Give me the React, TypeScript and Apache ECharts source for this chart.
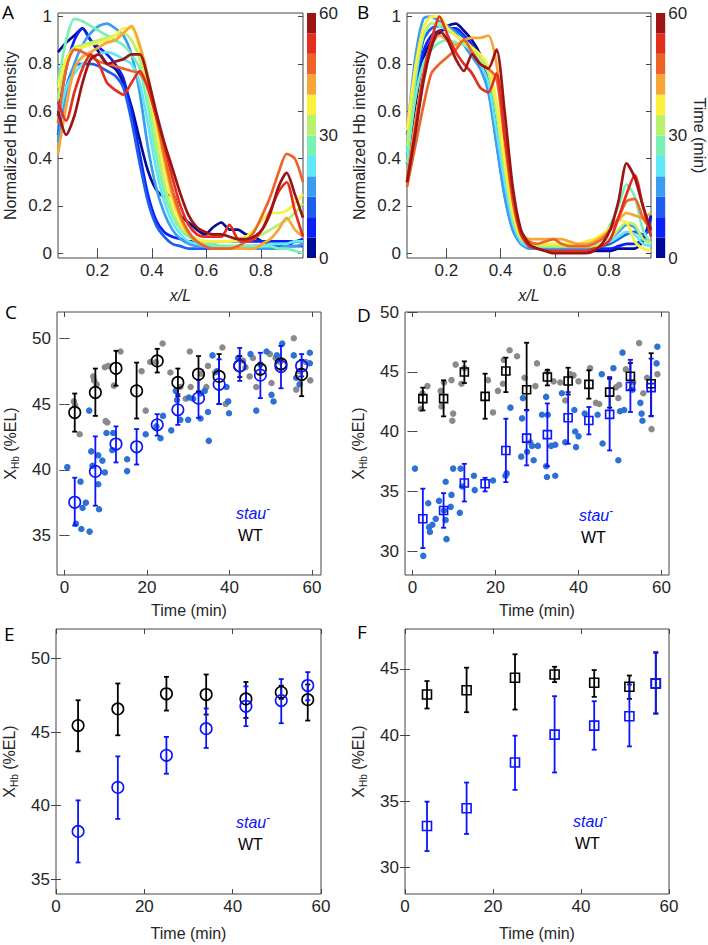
import React, { useEffect, useRef } from 'react';
import * as echarts from 'echarts';

const FONT = '"Liberation Sans", Arial, Helvetica, sans-serif';
const LETTER_FONT = '"Open Sans", "Liberation Sans", sans-serif';
const INK = '#262626';
const BOX = '#444444';
const STAU_BLUE = '#0a14ff';
const STAU_DOT = '#2d70d6';
const WT_DOT = '#8a8a8a';
const TICK_FONT = 17;

// 12 time bins of 5 min each (0-60 min), jet-like colours
const TIME_COLORS = ['#000a96', '#0a22f5', '#1f5eef', '#3c9cf2', '#5fe7f6', '#79f0b6', '#b9f06c', '#fbf03c', '#f5a636', '#ee6428', '#e42f1e', '#9c1414'];
const BAND_MINUTES = [5, 5, 5, 5, 5, 5, 5, 5, 5, 5, 5, 5];
const COLORBAR_TICKS = [0, 30, 60];

// profile x positions (x/L)
const PROFILE_X = [0.055, 0.085, 0.115, 0.145, 0.175, 0.205, 0.235, 0.265, 0.295, 0.325, 0.355, 0.385, 0.415, 0.445, 0.475, 0.505, 0.535, 0.565, 0.595, 0.625, 0.655, 0.685, 0.715, 0.745, 0.775, 0.805, 0.835, 0.865, 0.895, 0.925, 0.955];
const PROFILE_X_TICKS = [0.2, 0.4, 0.6, 0.8];
const PROFILE_Y_TICKS = [0, 0.2, 0.4, 0.6, 0.8, 1];

const A_PROFILES = [
  [0.85, 0.89, 0.92, 0.95, 0.9, 0.85, 0.8, 0.78, 0.72, 0.62, 0.48, 0.35, 0.27, 0.24, 0.25, 0.16, 0.13, 0.1, 0.08, 0.11, 0.13, 0.1, 0.1, 0.08, 0.07, 0.05, 0.04, 0.04, 0.03, 0.05, 0.05],
  [0.58, 0.78, 0.9, 0.95, 0.9, 0.87, 0.84, 0.8, 0.74, 0.6, 0.42, 0.25, 0.14, 0.09, 0.07, 0.06, 0.05, 0.05, 0.05, 0.05, 0.05, 0.05, 0.05, 0.05, 0.05, 0.05, 0.05, 0.05, 0.05, 0.05, 0.06],
  [0.5, 0.7, 0.79, 0.8, 0.8, 0.79, 0.77, 0.75, 0.7, 0.56, 0.38, 0.22, 0.12, 0.07, 0.04, 0.03, 0.02, 0.02, 0.02, 0.02, 0.02, 0.02, 0.02, 0.03, 0.03, 0.03, 0.03, 0.03, 0.03, 0.03, 0.03],
  [0.47, 0.68, 0.8, 0.88, 0.93, 0.96, 0.97, 0.95, 0.92, 0.84, 0.68, 0.45, 0.28, 0.17, 0.1, 0.06, 0.04, 0.03, 0.03, 0.03, 0.02, 0.02, 0.02, 0.02, 0.02, 0.02, 0.02, 0.02, 0.03, 0.03, 0.04],
  [0.55, 0.7, 0.76, 0.8, 0.82, 0.84, 0.85, 0.84, 0.82, 0.8, 0.72, 0.55, 0.36, 0.22, 0.13, 0.08, 0.05, 0.04, 0.03, 0.03, 0.03, 0.03, 0.03, 0.03, 0.03, 0.03, 0.04, 0.04, 0.04, 0.05, 0.05],
  [0.72, 0.9, 0.99, 0.98, 0.96, 0.94, 0.92, 0.9, 0.88, 0.84, 0.78, 0.62, 0.42, 0.26, 0.16, 0.1, 0.07, 0.05, 0.04, 0.04, 0.03, 0.03, 0.03, 0.03, 0.03, 0.03, 0.03, 0.02, 0.02, 0.01, 0.0],
  [0.65, 0.82, 0.87, 0.88, 0.89, 0.9, 0.91, 0.92, 0.93, 0.9, 0.82, 0.68, 0.48, 0.3, 0.18, 0.11, 0.08, 0.06, 0.05, 0.05, 0.05, 0.05, 0.05, 0.06, 0.07, 0.08, 0.1, 0.12, 0.14, 0.17, 0.21],
  [0.7, 0.82, 0.86, 0.87, 0.88, 0.89, 0.9, 0.92, 0.95, 0.95, 0.86, 0.72, 0.54, 0.36, 0.22, 0.13, 0.08, 0.06, 0.05, 0.05, 0.05, 0.05, 0.06, 0.07, 0.1, 0.14, 0.17, 0.17, 0.18, 0.21, 0.25],
  [0.42, 0.62, 0.78, 0.83, 0.85, 0.87, 0.89, 0.9, 0.93, 0.96, 0.88, 0.75, 0.58, 0.4, 0.25, 0.15, 0.08, 0.05, 0.03, 0.02, 0.02, 0.02, 0.02, 0.02, 0.02, 0.04, 0.06, 0.1, 0.15, 0.1, 0.07],
  [0.55, 0.78, 0.86, 0.85, 0.83, 0.81, 0.8, 0.79, 0.78, 0.77, 0.76, 0.7, 0.58, 0.42, 0.27, 0.16, 0.09, 0.05, 0.03, 0.02, 0.02, 0.02, 0.03, 0.05, 0.09, 0.16, 0.24, 0.34, 0.42, 0.4, 0.3],
  [0.64, 0.56, 0.68, 0.78, 0.84, 0.8, 0.72, 0.69, 0.67, 0.72, 0.77, 0.7, 0.58, 0.46, 0.32, 0.2, 0.12, 0.08, 0.07, 0.07, 0.07, 0.12, 0.06, 0.05, 0.06, 0.1, 0.18, 0.26, 0.3, 0.18, 0.07],
  [0.6, 0.5, 0.58, 0.72, 0.82, 0.84, 0.8, 0.81, 0.82, 0.84, 0.84, 0.74, 0.6, 0.47, 0.36, 0.25, 0.16, 0.11, 0.09, 0.08, 0.08, 0.07, 0.06, 0.06, 0.07, 0.1, 0.17, 0.28, 0.34, 0.25, 0.15],
];

const B_PROFILES = [
  [0.38, 0.62, 0.82, 0.9, 0.93, 0.96, 0.97, 0.94, 0.9, 0.84, 0.74, 0.52, 0.3, 0.13, 0.05, 0.03, 0.02, 0.02, 0.02, 0.02, 0.02, 0.01, 0.01, 0.01, 0.01, 0.01, 0.02, 0.02, 0.02, 0.05, 0.16],
  [0.45, 0.68, 0.85, 0.92, 0.94, 0.95, 0.95, 0.92, 0.88, 0.82, 0.72, 0.5, 0.28, 0.12, 0.05, 0.03, 0.02, 0.02, 0.02, 0.02, 0.02, 0.02, 0.02, 0.02, 0.02, 0.02, 0.03, 0.04, 0.04, 0.06, 0.15],
  [0.42, 0.7, 0.9, 0.95, 0.96, 0.95, 0.94, 0.91, 0.86, 0.8, 0.7, 0.47, 0.25, 0.1, 0.04, 0.03, 0.02, 0.02, 0.02, 0.02, 0.02, 0.02, 0.02, 0.02, 0.03, 0.04, 0.06, 0.08, 0.09, 0.08, 0.1],
  [0.5, 0.82, 0.99, 1.0, 0.98, 0.96, 0.93, 0.88, 0.83, 0.78, 0.68, 0.46, 0.24, 0.1, 0.04, 0.02, 0.02, 0.02, 0.02, 0.02, 0.02, 0.02, 0.02, 0.02, 0.04, 0.06, 0.09, 0.12, 0.11, 0.06, 0.05],
  [0.42, 0.72, 0.92, 0.97, 0.96, 0.94, 0.92, 0.89, 0.85, 0.8, 0.72, 0.52, 0.3, 0.13, 0.05, 0.03, 0.03, 0.03, 0.03, 0.03, 0.03, 0.03, 0.03, 0.03, 0.04, 0.05, 0.07, 0.09, 0.08, 0.04, 0.03],
  [0.38, 0.65, 0.8, 0.86, 0.89, 0.9, 0.89, 0.88, 0.86, 0.83, 0.78, 0.6, 0.36, 0.16, 0.06, 0.04, 0.03, 0.03, 0.03, 0.03, 0.03, 0.03, 0.03, 0.04, 0.07, 0.12, 0.2, 0.29, 0.24, 0.1, 0.04],
  [0.45, 0.75, 0.92, 0.97, 0.97, 0.95, 0.92, 0.89, 0.86, 0.82, 0.76, 0.6, 0.36, 0.16, 0.06, 0.04, 0.03, 0.03, 0.03, 0.03, 0.03, 0.03, 0.03, 0.03, 0.04, 0.06, 0.1, 0.13, 0.12, 0.06, 0.04],
  [0.52, 0.78, 0.95, 1.0, 1.0, 0.95, 0.92, 0.9, 0.87, 0.84, 0.79, 0.64, 0.4, 0.18, 0.07, 0.05, 0.04, 0.04, 0.04, 0.04, 0.04, 0.04, 0.05, 0.06, 0.08, 0.11, 0.14, 0.13, 0.05, 0.02, 0.01],
  [0.3, 0.55, 0.75, 0.88, 0.92, 0.9, 0.88, 0.9, 0.91, 0.91, 0.92, 0.8, 0.5, 0.24, 0.09, 0.06, 0.06, 0.06, 0.06, 0.06, 0.05, 0.04, 0.04, 0.05, 0.07, 0.1, 0.14, 0.17, 0.16, 0.15, 0.17],
  [0.28, 0.45, 0.62, 0.76, 0.8, 0.83, 0.86, 0.9, 0.85, 0.8, 0.78, 0.74, 0.48, 0.22, 0.08, 0.05, 0.04, 0.05, 0.06, 0.04, 0.03, 0.03, 0.03, 0.04, 0.06, 0.1, 0.15, 0.22, 0.23, 0.15, 0.1],
  [0.3, 0.52, 0.75, 0.9, 1.0, 0.92, 0.85, 0.8, 0.76, 0.7, 0.68, 0.76, 0.5, 0.25, 0.08, 0.03, 0.02, 0.01, 0.01, 0.01, 0.01, 0.01, 0.01, 0.02, 0.03, 0.06, 0.15, 0.25, 0.33, 0.2, 0.07],
  [0.3, 0.5, 0.72, 0.87, 0.94, 0.9, 0.82, 0.77, 0.84, 0.8, 0.78, 0.86, 0.6, 0.28, 0.1, 0.04, 0.02, 0.01, 0.0, 0.0, 0.0, 0.0, 0.0, 0.01, 0.04, 0.1, 0.22, 0.38, 0.32, 0.2, 0.1],
];

// Panels C / D: 5-min bins
const TIME_TICKS = [0, 20, 40, 60];
const CD_TIMES = [2.5, 7.5, 12.5, 17.5, 22.5, 27.5, 32.5, 37.5, 42.5, 47.5, 52.5, 57.5];

const C_Y_TICKS = [35, 40, 45, 50];
const C_WT_MEAN = [44.36, 45.88, 47.72, 46.0, 48.28, 46.64, 47.27, 47.1, 47.9, 47.65, 48.05, 47.25];
const C_WT_LO = [42.9, 44.1, 46.4, 43.9, 47.4, 45.6, 45.95, 45.0, 47.05, 47.25, 47.65, 45.6];
const C_WT_HI = [45.8, 47.7, 49.05, 48.15, 49.2, 47.7, 48.65, 48.8, 48.65, 48.1, 48.35, 48.35];
const C_STAU_MEAN = [37.53, 39.88, 41.96, 41.75, 43.42, 44.56, 45.45, 46.5, 47.9, 47.2, 47.85, 47.9];
const C_STAU_LO = [35.76, 37.27, 40.56, 40.4, 42.6, 43.42, 43.95, 45.0, 46.76, 45.45, 46.2, 47.1];
const C_STAU_HI = [39.4, 42.54, 43.3, 43.1, 44.23, 45.75, 46.85, 48.4, 49.27, 48.9, 49.42, 48.8];
const C_WT_POINTS = [
  [2.3, 45.2], [2.6, 44.9], [3.7, 42.7], [7.0, 47.1], [7.2, 46.8], [7.8, 46.5], [9.8, 47.8], [10.6, 47.9], [10.0, 43.7], [10.4, 43.6],
  [12.0, 46.4], [13.6, 49.0], [18.7, 47.5], [19.7, 44.5], [20.8, 48.2], [22.2, 48.2], [23.8, 49.6], [25.7, 47.4], [28.1, 46.3], [29.4, 45.4],
  [30.4, 49.0], [30.6, 46.3], [33.2, 47.3], [34.8, 47.9], [34.4, 46.3], [36.5, 47.4], [38.3, 49.3], [39.1, 45.0], [43.3, 48.3], [43.9, 47.8],
  [45.7, 48.5], [44.9, 47.1], [46.5, 46.3], [49.8, 48.8], [50.2, 46.6], [51.2, 48.5], [52.3, 48.2], [55.6, 50.0], [56.2, 46.1], [57.0, 47.5],
  [58.5, 48.2], [59.6, 46.8],
];
const C_STAU_POINTS = [
  [0.7, 40.2], [2.8, 35.9], [3.9, 39.1], [4.1, 35.5], [4.4, 37.1], [5.2, 37.5], [6.0, 44.5], [6.1, 35.3], [6.5, 41.4], [6.8, 40.3],
  [8.2, 41.1], [8.2, 38.9], [8.4, 37.0], [9.2, 40.7], [9.8, 39.8], [10.2, 42.8], [11.6, 41.5], [11.8, 42.8], [15.2, 40.8], [15.2, 39.9],
  [19.7, 42.7], [22.3, 43.3], [23.3, 42.4], [23.9, 44.1], [25.9, 43.0], [27.0, 46.0], [27.3, 45.3], [28.1, 43.8], [30.0, 43.8], [30.2, 45.5],
  [31.2, 45.4], [33.0, 45.8], [33.0, 43.9], [34.0, 46.0], [34.8, 44.4], [35.0, 42.2], [35.9, 48.7], [37.0, 47.5], [39.3, 46.3], [39.7, 45.2],
  [39.9, 44.3], [42.1, 48.5], [45.1, 48.8], [46.5, 44.5], [47.5, 48.0], [49.0, 49.0], [50.2, 45.7], [50.7, 45.2], [51.5, 48.7], [52.8, 49.6],
  [55.6, 48.7], [56.2, 47.0], [57.0, 46.5], [59.5, 48.9], [59.5, 48.1],
];

const D_Y_TICKS = [30, 35, 40, 45, 50];
const D_WT_MEAN = [42.75, 42.75, 44.98, 42.94, 45.06, 43.5, 44.56, 44.23, 43.95, 43.3, 44.62, 44.0];
const D_WT_LO = [41.77, 41.27, 44.06, 41.07, 43.3, 41.8, 43.86, 43.1, 42.75, 42.0, 43.5, 41.3];
const D_WT_HI = [43.67, 44.28, 45.87, 44.84, 46.18, 47.43, 45.17, 45.34, 45.12, 44.42, 45.73, 46.55];
const D_STAU_MEAN = [32.7, 33.4, 35.7, 35.63, 38.42, 39.45, 39.74, 41.16, 40.93, 41.44, 43.78, 43.67];
const D_STAU_LO = [30.25, 31.95, 34.15, 34.99, 35.77, 37.17, 37.1, 38.98, 39.76, 38.42, 41.63, 41.27];
const D_STAU_HI = [35.22, 34.85, 37.3, 36.13, 41.07, 41.77, 42.35, 43.3, 42.05, 44.56, 46.0, 46.1];
const D_WT_POINTS = [
  [2.0, 41.9], [2.4, 43.2], [3.6, 43.8], [6.8, 43.4], [7.0, 42.1], [7.6, 44.1], [9.4, 44.3], [9.6, 40.9], [9.8, 41.5], [10.4, 45.6],
  [11.8, 44.0], [12.5, 45.3], [18.2, 44.3], [19.4, 41.6], [20.6, 43.4], [21.8, 44.0], [22.0, 46.0], [23.4, 46.8], [25.2, 46.3], [27.0, 44.5],
  [28.4, 39.1], [29.6, 43.8], [30.0, 45.7], [32.5, 45.0], [34.0, 44.2], [35.6, 44.1], [36.8, 42.6], [38.0, 44.8], [38.8, 44.7], [40.0, 44.2],
  [42.8, 45.3], [44.2, 42.4], [45.0, 42.3], [49.0, 43.7], [49.6, 42.8], [49.8, 43.9], [51.4, 45.2], [53.2, 44.1], [54.6, 47.4], [55.6, 43.2],
  [56.5, 44.5], [57.6, 40.2], [59.0, 44.8],
];
const D_STAU_POINTS = [
  [0.6, 36.9], [2.6, 29.6], [3.8, 34.0], [4.0, 32.0], [4.2, 31.6], [4.8, 32.2], [5.6, 32.7], [6.4, 34.2], [7.6, 33.4], [8.0, 35.8],
  [8.0, 32.6], [8.2, 31.0], [9.2, 33.7], [9.4, 34.7], [9.8, 36.9], [11.4, 33.2], [11.6, 36.9], [12.0, 35.4], [14.8, 36.3], [15.0, 35.1],
  [19.4, 35.9], [22.4, 36.3], [22.7, 36.5], [23.6, 42.0], [26.2, 37.9], [26.4, 41.1], [26.6, 42.8], [27.6, 38.3], [28.8, 38.8], [29.2, 37.6],
  [30.2, 38.8], [31.2, 41.4], [32.2, 42.9], [32.6, 41.4], [32.2, 37.1], [32.4, 36.2], [33.4, 38.8], [34.4, 38.9], [34.4, 36.3], [36.0, 43.2],
  [36.8, 39.1], [39.0, 41.8], [39.2, 40.0], [39.4, 38.7], [40.0, 39.6], [41.5, 41.5], [44.6, 41.4], [45.6, 44.8], [45.8, 39.0], [48.4, 45.3],
  [49.6, 37.6], [50.0, 41.7], [50.6, 46.6], [51.0, 41.8], [53.0, 43.5], [54.9, 42.4], [55.2, 41.5], [55.4, 40.9], [58.8, 45.7], [59.0, 47.1],
];

// Panels E / F
const EF_TIMES = [5, 14, 25, 34, 43, 51, 57];
const E_Y_TICKS = [35, 40, 45, 50];
const E_WT_MEAN = [45.44, 46.57, 47.6, 47.55, 47.25, 47.7, 47.2];
const E_WT_LO = [43.69, 44.78, 46.46, 46.19, 45.96, 47.25, 45.78];
const E_WT_HI = [47.16, 48.3, 48.75, 48.91, 48.4, 48.15, 48.23];
const E_STAU_MEAN = [38.25, 41.24, 43.42, 45.23, 46.75, 47.14, 48.16];
const E_STAU_LO = [36.14, 39.1, 42.17, 43.92, 45.4, 45.6, 47.16];
const E_STAU_HI = [40.36, 43.35, 44.67, 46.6, 48.1, 48.6, 49.07];

const F_Y_TICKS = [30, 35, 40, 45];
const F_WT_MEAN = [43.06, 43.38, 44.32, 44.57, 43.94, 43.64, 43.9];
const F_WT_LO = [42.0, 41.72, 41.92, 43.99, 42.88, 42.73, 41.62];
const F_WT_HI = [44.07, 45.08, 46.09, 45.15, 44.9, 44.49, 46.25];
const F_STAU_MEAN = [33.13, 34.47, 37.93, 40.03, 40.71, 41.41, 43.9];
const F_STAU_LO = [31.24, 32.53, 35.86, 37.17, 38.89, 39.14, 41.62];
const F_STAU_HI = [34.97, 36.41, 39.95, 42.93, 42.55, 43.81, 46.2];

// ---------- layout ----------
const GRIDS = [
  { left: 58, top: 13, width: 245, height: 245 },
  { left: 407, top: 13, width: 244, height: 245 },
  { left: 57, top: 312, width: 264, height: 263 },
  { left: 405, top: 312, width: 264, height: 263 },
  { left: 56, top: 629, width: 265, height: 265 },
  { left: 405, top: 629, width: 264, height: 265 },
  { left: 307, top: 13, width: 9, height: 245 },
  { left: 656, top: 13, width: 11, height: 245 },
];

const fmt = (v: number) => String(v);

function tick(values: number[]) {
  return { show: true, inside: true, length: 5, customValues: values, lineStyle: { color: BOX, width: 1 } };
}
function label(values: number[], margin = 6) {
  return { show: true, customValues: values, fontSize: TICK_FONT, color: INK, fontFamily: FONT, margin, formatter: fmt };
}

const X_HB_NAME = '{x|X}{s|Hb}{t| (%EL)}';
const X_HB_RICH = {
  x: { fontSize: 16, lineHeight: 20, fontFamily: FONT, color: INK },
  s: { fontSize: 10, lineHeight: 10, verticalAlign: 'bottom', fontFamily: FONT, color: INK },
  t: { fontSize: 16, lineHeight: 20, fontFamily: FONT, color: INK },
};

type PanelAxisCfg = {
  grid: number; xMin: number; xMax: number; xTicks: number[]; yMin: number; yMax: number; yTicks: number[];
  xName: string; xItalic: boolean; xGap: number; yName: string; yRich: boolean; yGap: number;
};

function buildAxes(cfgs: PanelAxisCfg[]) {
  const xAxes: any[] = [];
  const yAxes: any[] = [];
  cfgs.forEach((c) => {
    xAxes.push({
      type: 'value', gridIndex: c.grid, position: 'bottom', min: c.xMin, max: c.xMax,
      axisLine: { show: false }, splitLine: { show: false }, axisTick: tick(c.xTicks), axisLabel: label(c.xTicks, 4),
      name: c.xName, nameLocation: 'middle', nameGap: c.xGap,
      nameTextStyle: { fontSize: 16, color: INK, fontFamily: FONT, fontStyle: c.xItalic ? 'italic' : 'normal' },
    });
    xAxes.push({
      type: 'value', gridIndex: c.grid, position: 'top', min: c.xMin, max: c.xMax,
      axisLine: { show: false }, splitLine: { show: false }, axisTick: tick(c.xTicks), axisLabel: { show: false },
    });
    yAxes.push({
      type: 'value', gridIndex: c.grid, position: 'left', min: c.yMin, max: c.yMax,
      axisLine: { show: false }, splitLine: { show: false }, axisTick: tick(c.yTicks), axisLabel: label(c.yTicks, 6),
      name: c.yName, nameLocation: 'middle', nameGap: c.yGap,
      nameTextStyle: c.yRich
        ? { fontSize: 16, color: INK, fontFamily: FONT, rich: X_HB_RICH }
        : { fontSize: 16, color: INK, fontFamily: FONT },
    });
    yAxes.push({
      type: 'value', gridIndex: c.grid, position: 'right', min: c.yMin, max: c.yMax,
      axisLine: { show: false }, splitLine: { show: false }, axisTick: tick(c.yTicks), axisLabel: { show: false },
    });
  });
  return { xAxes, yAxes };
}

function errorBars(axis: number, times: number[], lo: number[], hi: number[], color: string) {
  return {
    type: 'custom', xAxisIndex: axis, yAxisIndex: axis, silent: true, z: 4,
    data: times.map((t, i) => [t, lo[i], hi[i]]),
    encode: { x: 0, y: [1, 2] },
    renderItem: (_p: any, api: any) => {
      const a = api.coord([api.value(0), api.value(1)]);
      const b = api.coord([api.value(0), api.value(2)]);
      const w = 2.5;
      const style = { stroke: color, lineWidth: 1.8 };
      return {
        type: 'group',
        children: [
          { type: 'line', shape: { x1: a[0], y1: a[1], x2: b[0], y2: b[1] }, style },
          { type: 'line', shape: { x1: a[0] - w, y1: a[1], x2: a[0] + w, y2: a[1] }, style },
          { type: 'line', shape: { x1: b[0] - w, y1: b[1], x2: b[0] + w, y2: b[1] }, style },
        ],
      };
    },
  };
}

function markers(axis: number, times: number[], mean: number[], symbol: string, size: number, color: string) {
  return {
    type: 'scatter', xAxisIndex: axis, yAxisIndex: axis, silent: true, z: 5, symbol, symbolSize: size,
    data: times.map((t, i) => [t, mean[i]]),
    itemStyle: { color: 'rgba(0,0,0,0)', borderColor: color, borderWidth: 1.6, opacity: 1 },
  };
}

function dots(axis: number, pts: number[][], color: string) {
  return {
    type: 'scatter', xAxisIndex: axis, yAxisIndex: axis, silent: true, z: 2, symbol: 'circle', symbolSize: 6.5,
    data: pts, itemStyle: { color, opacity: 1 },
  };
}

function profiles(axis: number, curves: number[][]) {
  return curves.map((ys, i) => ({
    type: 'line', xAxisIndex: axis, yAxisIndex: axis, silent: true, showSymbol: false, symbol: 'none', smooth: 0.25,
    data: PROFILE_X.map((x, j) => [x, ys[j]]),
    lineStyle: { color: TIME_COLORS[i], width: 2.7 }, itemStyle: { color: TIME_COLORS[i] }, z: 2,
  }));
}

function colorbar(axis: number, stack: string) {
  return TIME_COLORS.map((c, i) => ({
    type: 'bar', xAxisIndex: axis, yAxisIndex: axis, stack, barWidth: '100%', silent: true,
    data: [BAND_MINUTES[i]], itemStyle: { color: c },
  }));
}

function legend(left: number, top: number) {
  return [
    {
      type: 'text', left, top,
      style: {
        text: '{a|stau}{b|-}',
        rich: {
          a: { fill: STAU_BLUE, fontSize: 16, fontStyle: 'italic', fontFamily: FONT, lineHeight: 20 },
          b: { fill: STAU_BLUE, fontSize: 12, fontFamily: FONT, lineHeight: 10, verticalAlign: 'top' },
        },
      },
    },
    { type: 'text', left: left + 2, top: top + 24, style: { text: 'WT', fill: '#000', fontSize: 16, fontFamily: FONT } },
  ];
}

function panelLetter(text: string, left: number, top: number) {
  return { type: 'text', left, top, style: { text, fill: '#000', fontSize: 19, fontFamily: LETTER_FONT } };
}

function buildOption() {
  const cfgs: PanelAxisCfg[] = [
    { grid: 0, xMin: 0.055, xMax: 0.955, xTicks: PROFILE_X_TICKS, yMin: -0.02, yMax: 1.015, yTicks: PROFILE_Y_TICKS, xName: 'x/L', xItalic: true, xGap: 29, yName: 'Normalized Hb intensity', yRich: false, yGap: 40 },
    { grid: 1, xMin: 0.055, xMax: 0.955, xTicks: PROFILE_X_TICKS, yMin: -0.02, yMax: 1.015, yTicks: PROFILE_Y_TICKS, xName: 'x/L', xItalic: true, xGap: 29, yName: 'Normalized Hb intensity', yRich: false, yGap: 40 },
    { grid: 2, xMin: -1.8, xMax: 62.2, xTicks: TIME_TICKS, yMin: 32, yMax: 52, yTicks: C_Y_TICKS, xName: 'Time (min)', xItalic: false, xGap: 27, yName: X_HB_NAME, yRich: true, yGap: 37 },
    { grid: 3, xMin: -1.8, xMax: 61.8, xTicks: TIME_TICKS, yMin: 28, yMax: 50, yTicks: D_Y_TICKS, xName: 'Time (min)', xItalic: false, xGap: 27, yName: X_HB_NAME, yRich: true, yGap: 37 },
    { grid: 4, xMin: 0, xMax: 60, xTicks: TIME_TICKS, yMin: 34, yMax: 52, yTicks: E_Y_TICKS, xName: 'Time (min)', xItalic: false, xGap: 31, yName: X_HB_NAME, yRich: true, yGap: 37 },
    { grid: 5, xMin: 0, xMax: 60, xTicks: TIME_TICKS, yMin: 28, yMax: 48, yTicks: F_Y_TICKS, xName: 'Time (min)', xItalic: false, xGap: 31, yName: X_HB_NAME, yRich: true, yGap: 37 },
  ];
  const { xAxes, yAxes } = buildAxes(cfgs);

  // colorbar axes (index 12, 13)
  [6, 7].forEach((g, k) => {
    xAxes.push({ type: 'category', gridIndex: g, data: ['t'], show: false });
    yAxes.push({
      type: 'value', gridIndex: g, position: 'right', min: 0, max: 60,
      axisLine: { show: false }, axisTick: { show: false }, splitLine: { show: false },
      axisLabel: label(COLORBAR_TICKS, 3),
      name: k === 1 ? 'Time (min)' : '', nameLocation: 'middle', nameGap: 22, nameRotate: -90,
      nameTextStyle: { fontSize: 16, color: INK, fontFamily: FONT },
    });
  });

  const series: any[] = [
    ...profiles(0, A_PROFILES),
    ...profiles(2, B_PROFILES),
    dots(4, C_WT_POINTS, WT_DOT),
    dots(4, C_STAU_POINTS, STAU_DOT),
    errorBars(4, CD_TIMES, C_WT_LO, C_WT_HI, '#000'),
    markers(4, CD_TIMES, C_WT_MEAN, 'circle', 11.5, '#000'),
    errorBars(4, CD_TIMES, C_STAU_LO, C_STAU_HI, STAU_BLUE),
    markers(4, CD_TIMES, C_STAU_MEAN, 'circle', 11.5, STAU_BLUE),
    dots(6, D_WT_POINTS, WT_DOT),
    dots(6, D_STAU_POINTS, STAU_DOT),
    errorBars(6, CD_TIMES, D_WT_LO, D_WT_HI, '#000'),
    markers(6, CD_TIMES, D_WT_MEAN, 'rect', 8, '#000'),
    errorBars(6, CD_TIMES, D_STAU_LO, D_STAU_HI, STAU_BLUE),
    markers(6, CD_TIMES, D_STAU_MEAN, 'rect', 8, STAU_BLUE),
    errorBars(8, EF_TIMES, E_WT_LO, E_WT_HI, '#000'),
    markers(8, EF_TIMES, E_WT_MEAN, 'circle', 11.5, '#000'),
    errorBars(8, EF_TIMES, E_STAU_LO, E_STAU_HI, STAU_BLUE),
    markers(8, EF_TIMES, E_STAU_MEAN, 'circle', 11.5, STAU_BLUE),
    errorBars(10, EF_TIMES, F_WT_LO, F_WT_HI, '#000'),
    markers(10, EF_TIMES, F_WT_MEAN, 'rect', 9, '#000'),
    errorBars(10, EF_TIMES, F_STAU_LO, F_STAU_HI, STAU_BLUE),
    markers(10, EF_TIMES, F_STAU_MEAN, 'rect', 9, STAU_BLUE),
    ...colorbar(12, 'cbA'),
    ...colorbar(13, 'cbB'),
  ];

  return {
    animation: false,
    backgroundColor: '#ffffff',
    textStyle: { fontFamily: FONT },
    grid: GRIDS.map((g, i) => ({
      ...g, containLabel: false, show: i < 6, borderColor: BOX, borderWidth: 1, backgroundColor: 'rgba(0,0,0,0)',
    })),
    xAxis: xAxes,
    yAxis: yAxes,
    series,
    graphic: [
      panelLetter('A', 2, 2),
      panelLetter('B', 357, 2),
      panelLetter('C', 5, 302),
      panelLetter('D', 357, 305),
      panelLetter('E', 4, 624),
      panelLetter('F', 357, 622),
      ...legend(236, 503),
      ...legend(579, 505),
      ...legend(236, 812),
      ...legend(573, 811),
    ],
  };
}

export default function App() {
  const ref = useRef<HTMLDivElement>(null);
  useEffect(() => {
    if (!ref.current) return;
    const chart = echarts.init(ref.current, undefined, { renderer: 'svg' });
    chart.setOption(buildOption() as any);
    return () => chart.dispose();
  }, []);
  return (
    <div
      ref={ref}
      style={{ position: 'absolute', left: 0, top: 0, width: 708, height: 945, background: '#ffffff' }}
    />
  );
}
